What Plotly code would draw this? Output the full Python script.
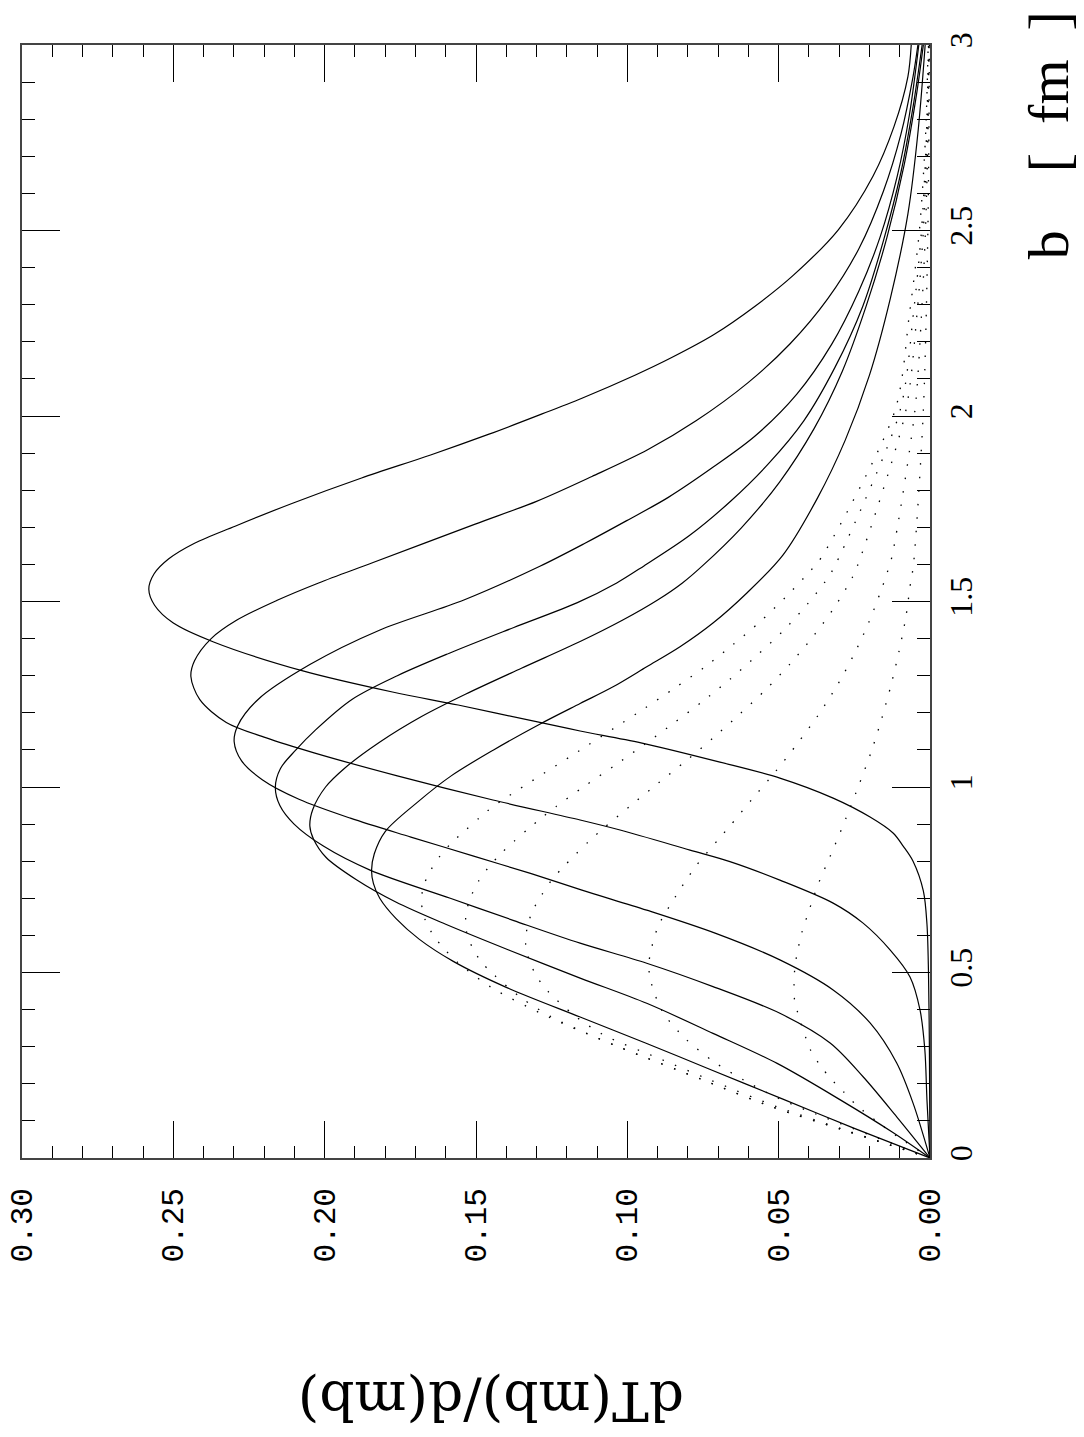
import plotly.graph_objects as go

# ---- solid curves: impact parameter b [fm] and dT/d(mb) ----
b_s1 = [0, 0.3, 0.5, 0.63, 0.72, 0.80, 0.84, 0.876, 0.919, 0.97, 1.024, 1.067, 1.119, 1.151, 1.174, 1.221, 1.256, 1.313,
        1.391, 1.442, 1.49, 1.533, 1.574, 1.615, 1.657, 1.703, 1.765, 1.833, 1.895, 1.951, 2.003, 2.048, 2.11, 2.157,
        2.219, 2.296, 2.379, 2.502, 2.647, 2.78, 2.915, 3.0]
t_s1 = [0, 0.0002, 0.0005, 0.001, 0.0022, 0.0056, 0.0088, 0.0122, 0.0198, 0.032, 0.0496, 0.0694, 0.0955, 0.1156, 0.1289,
        0.1559, 0.1776, 0.2072, 0.2367, 0.2500, 0.2562, 0.2581, 0.2564, 0.2515, 0.2430, 0.2296, 0.2106, 0.1878, 0.165,
        0.1457, 0.1290, 0.1150, 0.0975, 0.0855, 0.0715, 0.0578, 0.0452, 0.0303, 0.0188, 0.0119, 0.0073, 0.0062]

b_s2 = [0, 0.156, 0.291, 0.399, 0.488, 0.561, 0.633, 0.687, 0.749, 0.799, 0.83, 0.884, 0.911, 0.965, 1.03, 1.092, 1.133,
        1.174, 1.236, 1.298, 1.34, 1.40, 1.45, 1.504, 1.55, 1.605, 1.708, 1.77, 1.837, 1.909, 1.987, 2.09, 2.194, 2.317,
        2.451, 2.606, 2.76, 2.915, 3.0]
t_s2 = [0, 0.001, 0.0017, 0.0033, 0.0066, 0.0132, 0.0221, 0.032, 0.0496, 0.0661, 0.0793, 0.1024, 0.1156, 0.1444, 0.176,
        0.2035, 0.2195, 0.2325, 0.2413, 0.2442, 0.2430, 0.2375, 0.2290, 0.2155, 0.2020, 0.1840, 0.1505, 0.1300, 0.1117,
        0.0933, 0.0773, 0.0601, 0.0463, 0.0337, 0.0235, 0.0154, 0.0096, 0.0056, 0.004]

b_s3 = [0, 0.148, 0.256, 0.364, 0.453, 0.534, 0.606, 0.668, 0.722, 0.767, 0.813, 0.865, 0.916, 0.967, 1.019, 1.071, 1.122,
        1.164, 1.236, 1.33, 1.422, 1.504, 1.595, 1.657, 1.718, 1.78, 1.863, 1.946, 2.059, 2.193, 2.337, 2.482, 2.647,
        2.812, 3.0]
t_s3 = [0, 0.0056, 0.011, 0.0198, 0.032, 0.0496, 0.0710, 0.0936, 0.1150, 0.1320, 0.1505, 0.1715, 0.1915, 0.2085,
        0.2205, 0.2275, 0.2299, 0.2288, 0.222, 0.2049, 0.1821, 0.1540, 0.1289, 0.114, 0.1002, 0.0866, 0.0715, 0.0578,
        0.044, 0.0325, 0.0235, 0.0165, 0.0108, 0.0068, 0.0037]

b_s4 = [0, 0.111, 0.219, 0.31, 0.39, 0.462, 0.525, 0.579, 0.64, 0.70, 0.776, 0.84, 0.90, 0.95, 0.999, 1.05, 1.10, 1.154,
        1.236, 1.30, 1.36, 1.43, 1.497, 1.55, 1.596, 1.677, 1.771, 1.873, 1.987, 2.131, 2.296, 2.472, 2.657, 2.833, 3.0]
t_s4 = [0, 0.011, 0.0221, 0.033, 0.0496, 0.0717, 0.0936, 0.1156, 0.1375, 0.1585, 0.1850, 0.2003, 0.2101, 0.2148,
        0.2163, 0.2146, 0.2095, 0.2030, 0.1910, 0.1760, 0.1590, 0.1375, 0.1165, 0.1035, 0.0945, 0.0796, 0.0658, 0.0532,
        0.0417, 0.0314, 0.0222, 0.0154, 0.0096, 0.0056, 0.0026]

b_s5 = [0, 0.07, 0.156, 0.255, 0.336, 0.417, 0.485, 0.56, 0.63, 0.69, 0.75, 0.81, 0.86, 0.895, 0.94, 1.0, 1.05, 1.12,
        1.19, 1.25, 1.32, 1.392, 1.45, 1.504, 1.55, 1.596, 1.698, 1.822, 1.966, 2.12, 2.296, 2.482, 2.678, 2.864, 3.0]
t_s5 = [0, 0.0125, 0.0295, 0.0505, 0.0717, 0.0936, 0.1156, 0.139, 0.160, 0.1765, 0.1895, 0.1995, 0.2037, 0.2049,
        0.2039, 0.1997, 0.1935, 0.1820, 0.1680, 0.1535, 0.1350, 0.1156, 0.1015, 0.0900, 0.0818, 0.0752, 0.0624, 0.0497,
        0.0383, 0.029, 0.0211, 0.0142, 0.0085, 0.0045, 0.0022]

b_s6 = [0, 0.08, 0.16, 0.24, 0.31, 0.38, 0.46, 0.53, 0.59, 0.645, 0.70, 0.74, 0.776, 0.82, 0.88, 0.96, 1.03, 1.10, 1.17,
        1.225, 1.27, 1.324, 1.378, 1.442, 1.523, 1.625, 1.78, 1.935, 2.11, 2.317, 2.545, 2.771, 3.0]
t_s6 = [0, 0.025, 0.049, 0.073, 0.094, 0.1156, 0.140, 0.1575, 0.1688, 0.1764, 0.1818, 0.1839, 0.1845, 0.1836, 0.1800,
        0.1692, 0.1582, 0.1442, 0.1288, 0.1156, 0.1047, 0.0936, 0.0826, 0.0717, 0.0605, 0.0486, 0.0371, 0.028, 0.020,
        0.0131, 0.0073, 0.0039, 0.0016]

# ---- dotted curves ----
b_d1 = [0, 0.077, 0.138, 0.21, 0.30, 0.38, 0.46, 0.527, 0.562, 0.599, 0.642, 0.687, 0.732, 0.775, 0.815, 0.851, 0.884,
        0.916, 0.947, 1.106, 1.159, 1.212, 1.267, 1.323, 1.383, 1.445, 1.512, 1.582, 1.62, 2.014, 2.275, 2.5, 2.75, 3.0]
t_d1 = [0, 0.0292, 0.0523, 0.0749, 0.103, 0.126, 0.145, 0.156, 0.1603, 0.164, 0.1668, 0.168, 0.1674, 0.165, 0.1618,
        0.1579, 0.1534, 0.149, 0.1444, 0.1143, 0.1043, 0.0943, 0.0843, 0.0745, 0.0652, 0.0562, 0.0477, 0.0396, 0.0358,
        0.0116, 0.0068, 0.0035, 0.0015, 0.0006]

b_d2 = [0, 0.077, 0.138, 0.21, 0.30, 0.338, 0.38, 0.432, 0.494, 0.528, 0.569, 0.613, 0.66, 0.704, 0.747, 0.785, 0.821,
        0.854, 0.886, 0.917, 0.947, 1.003, 1.059, 1.115, 1.172, 1.231, 1.291, 1.356, 1.421, 1.493, 1.569, 1.62, 2.014,
        2.275, 2.5, 2.75, 3.0]
t_d2 = [0, 0.0292, 0.0523, 0.0749, 0.103, 0.114, 0.125, 0.1351, 0.1441, 0.1482, 0.1513, 0.1532, 0.1533, 0.1517, 0.1491,
        0.1457, 0.1417, 0.1374, 0.1329, 0.1283, 0.1236, 0.114, 0.104, 0.0943, 0.0847, 0.0751, 0.066, 0.057, 0.0485,
        0.0405, 0.0333, 0.030, 0.0099, 0.0055, 0.0028, 0.0012, 0.0005]

b_d3 = [0, 0.077, 0.138, 0.21, 0.27, 0.332, 0.385, 0.45, 0.489, 0.532, 0.577, 0.625, 0.668, 0.709, 0.749, 0.785, 0.819,
        0.853, 0.886, 0.948, 1.009, 1.07, 1.132, 1.197, 1.263, 1.333, 1.407, 1.483, 1.566, 1.62, 2.014, 2.275, 2.5,
        2.75, 3.0]
t_d3 = [0, 0.0285, 0.0505, 0.0725, 0.090, 0.1079, 0.1176, 0.1263, 0.1299, 0.1324, 0.1336, 0.133, 0.1312, 0.1283, 0.125,
        0.1211, 0.117, 0.1128, 0.1083, 0.0992, 0.09, 0.0807, 0.0717, 0.0628, 0.0542, 0.0461, 0.0385, 0.0317, 0.0256,
        0.0229, 0.008, 0.0043, 0.0022, 0.001, 0.0004]

b_d4 = [0, 0.127, 0.164, 0.21, 0.261, 0.323, 0.396, 0.485, 0.531, 0.623, 0.703, 0.784, 0.857, 0.893, 0.967, 1.04, 1.116,
        1.192, 1.272, 1.356, 1.442, 1.529, 1.574, 1.62, 2.014, 2.275, 2.5, 2.75, 3.0]
t_d4 = [0, 0.0403, 0.0509, 0.0615, 0.0717, 0.081, 0.0885, 0.0925, 0.0928, 0.0899, 0.0842, 0.0776, 0.0701, 0.0663,
        0.0588, 0.0512, 0.0439, 0.0371, 0.0308, 0.0252, 0.0203, 0.0162, 0.0143, 0.0126, 0.0050, 0.0028, 0.0015, 0.0007,
        0.0003]

b_d5 = [0, 0.057, 0.084, 0.143, 0.178, 0.213, 0.25, 0.29, 0.424, 0.471, 0.518, 0.563, 0.609, 0.654, 0.698, 0.743, 0.787,
        0.83, 0.917, 1.005, 1.093, 1.183, 1.274, 1.367, 1.457, 1.551, 1.596, 2.014, 2.5, 3.0]
t_d5 = [0, 0.0106, 0.0152, 0.0244, 0.0285, 0.0327, 0.0363, 0.0394, 0.0447, 0.0449, 0.0446, 0.0436, 0.0423, 0.0405,
        0.0387, 0.0367, 0.0344, 0.0321, 0.0277, 0.0235, 0.0195, 0.016, 0.0129, 0.0102, 0.008, 0.0064, 0.0055, 0.0022,
        0.0007, 0.0002]

solid = [(b_s1, t_s1), (b_s2, t_s2), (b_s3, t_s3), (b_s4, t_s4), (b_s5, t_s5), (b_s6, t_s6)]
dotted = [(b_d1, t_d1), (b_d2, t_d2), (b_d3, t_d3), (b_d4, t_d4), (b_d5, t_d5)]

t_ticks = [0.0, 0.05, 0.10, 0.15, 0.20, 0.25, 0.30]
t_labels = ["0.00", "0.05", "0.10", "0.15", "0.20", "0.25", "0.30"]
b_ticks = [0, 0.5, 1, 1.5, 2, 2.5, 3]
b_labels = ["0", "0.5", "1", "1.5", "2", "2.5", "3"]

fig = go.Figure()
for bb, tt in dotted:
    fig.add_trace(go.Scatter(x=tt, y=bb, mode="lines",
                             line=dict(color="black", width=1.3, dash="1.5px,12px", shape="spline", smoothing=0.8),
                             hoverinfo="skip", showlegend=False))
for bb, tt in solid:
    fig.add_trace(go.Scatter(x=tt, y=bb, mode="lines",
                             line=dict(color="black", width=1.2, shape="spline", smoothing=0.9),
                             hoverinfo="skip", showlegend=False))

# page body adds an 8px offset, so the figure is 8px smaller and margins reduced accordingly
fig.update_layout(
    template="none",
    width=1076, height=1429,
    margin=dict(l=14, r=154, t=37, b=279, pad=0),
    paper_bgcolor="white", plot_bgcolor="white",
    showlegend=False,
)
fig.update_xaxes(
    range=[0.30, 0.0], autorange=False, automargin=False,
    tickvals=t_ticks, ticktext=t_labels, tickangle=-90, ticklabeloverflow="allow",
    tickfont=dict(family="Liberation Mono", size=31, color="black"),
    ticks="inside", ticklen=37, tickwidth=1, tickcolor="black",
    showline=True, linecolor="#444", linewidth=1.5, mirror="allticks",
    showgrid=False, zeroline=False, ticklabelstandoff=16,
    minor=dict(dtick=0.01, tick0=0, ticks="inside", ticklen=12, tickwidth=1, tickcolor="black", showgrid=False),
)
fig.update_yaxes(
    range=[0, 3], autorange=False, automargin=False, side="right",
    tickvals=b_ticks, ticktext=b_labels, tickangle=-90, ticklabeloverflow="allow",
    tickfont=dict(family="Liberation Serif", size=32, color="black"),
    ticks="inside", ticklen=38, tickwidth=1, tickcolor="black",
    showline=True, linecolor="#444", linewidth=1.5, mirror="allticks",
    showgrid=False, zeroline=False, ticklabelstandoff=2,
    minor=dict(dtick=0.1, tick0=0, ticks="inside", ticklen=13, tickwidth=1, tickcolor="black", showgrid=False),
)

NB = "\u00a0"
fig.add_annotation(text="b" + NB * 4 + "[" + NB * 2 + "fm" + NB * 2 + "]", xref="paper", yref="paper",
                   x=1.130, y=0.919, textangle=-90, showarrow=False, xanchor="center", yanchor="middle",
                   font=dict(family="Liberation Serif", size=58, color="black"))
fig.add_annotation(text="dT(mb)/d(mb)", xref="paper", yref="paper", x=0.5165, y=-0.2185,
                   textangle=180, showarrow=False, xanchor="center", yanchor="middle",
                   font=dict(family="DejaVu Serif", size=55, color="black"))

fig.write_html("out.html")
